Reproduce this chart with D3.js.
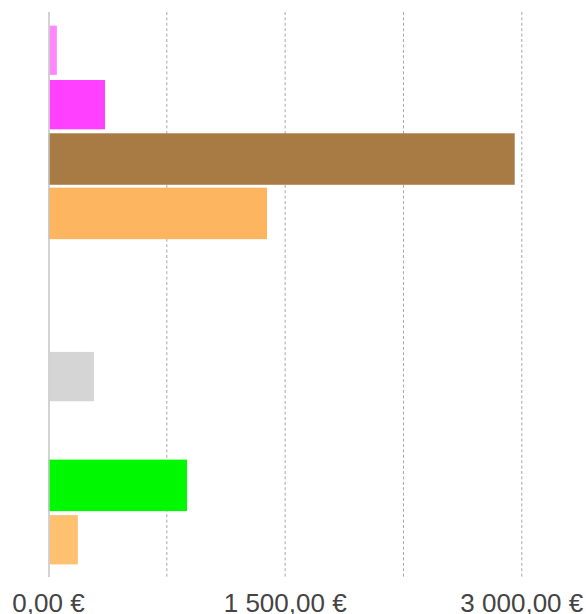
<!DOCTYPE html>
<html>
<head>
<meta charset="utf-8">
<script src="https://cdn.jsdelivr.net/npm/d3@7"></script>
<style>
  body { margin: 0; background: #fff; }
  svg { display: block; }
</style>
</head>
<body>
<div class="vis-barchart"></div>
<script>
// rows top to bottom, empty rows have no value
const categories = ['r1', 'r2', 'r3', 'r4', 'r5', 'r6', 'r7', 'r8', 'r9', 'r10'];
const values = [60, 365, 2955, 1385, null, null, 295, null, 878, 193];
const colors = ['#ff88ff', '#ff40ff', '#a97b44', '#fdb55f', null, null, '#d5d5d5', null, '#00f800', '#ffc070'];
const tickValues = [0, 750, 1500, 2250, 3000];
const labelValues = [0, 1500, 3000];

// these rows are drawn with a thin white edge
const edged = ['r1', 'r2', 'r7', 'r10'];

const width = 586, height = 614;
const plotTop = 12, plotBottom = 577;

const svg = d3.select('.vis-barchart').append('svg')
    .attr('width', width)
    .attr('height', height);

const x = d3.scaleLinear()
    .domain([0, 3000])
    .range([48.5, 521.8]);

const y = d3.scaleBand()
    .domain(categories)
    .range([plotTop, 578])
    .paddingInner(0.053)
    .paddingOuter(0.23);

const locale = d3.formatLocale({
    decimal: ',', thousands: '\u00a0', grouping: [3], currency: ['', '\u00a0€']
});
const fmt = locale.format('$,.2f');

// dashed grid
svg.append('g')
    .selectAll('line')
    .data(tickValues.slice(1))
    .join('line')
    .attr('x1', d => x(d)).attr('x2', d => x(d))
    .attr('y1', plotTop).attr('y2', plotBottom)
    .attr('stroke', '#a8a8a8')
    .attr('stroke-width', 1)
    .attr('stroke-dasharray', '3,2.4');

const rows = categories.map((c, i) => ({cat: c, value: values[i], color: colors[i]}))
    .filter(d => d.value != null);

svg.append('g')
    .selectAll('rect')
    .data(rows)
    .join('rect')
    .attr('x', x(0))
    .attr('y', d => y(d.cat))
    .attr('width', d => x(d.value) - x(0))
    .attr('height', y.bandwidth())
    .attr('fill', d => d.color)
    .attr('stroke', d => edged.includes(d.cat) ? '#fff' : 'none')
    .attr('stroke-width', 2.2);

// zero line
svg.append('line')
    .attr('x1', 49).attr('x2', 49)
    .attr('y1', plotTop).attr('y2', plotBottom)
    .attr('stroke', '#c4c4c4')
    .attr('stroke-width', 1.5);

svg.append('g')
    .selectAll('text')
    .data(labelValues)
    .join('text')
    .attr('x', d => x(d))
    .attr('y', 612)
    .attr('text-anchor', 'middle')
    .attr('font-family', '"Liberation Sans", Arial, sans-serif')
    .attr('font-size', 26)
    .attr('fill', '#444')
    .text(d => fmt(d));
</script>
</body>
</html>
